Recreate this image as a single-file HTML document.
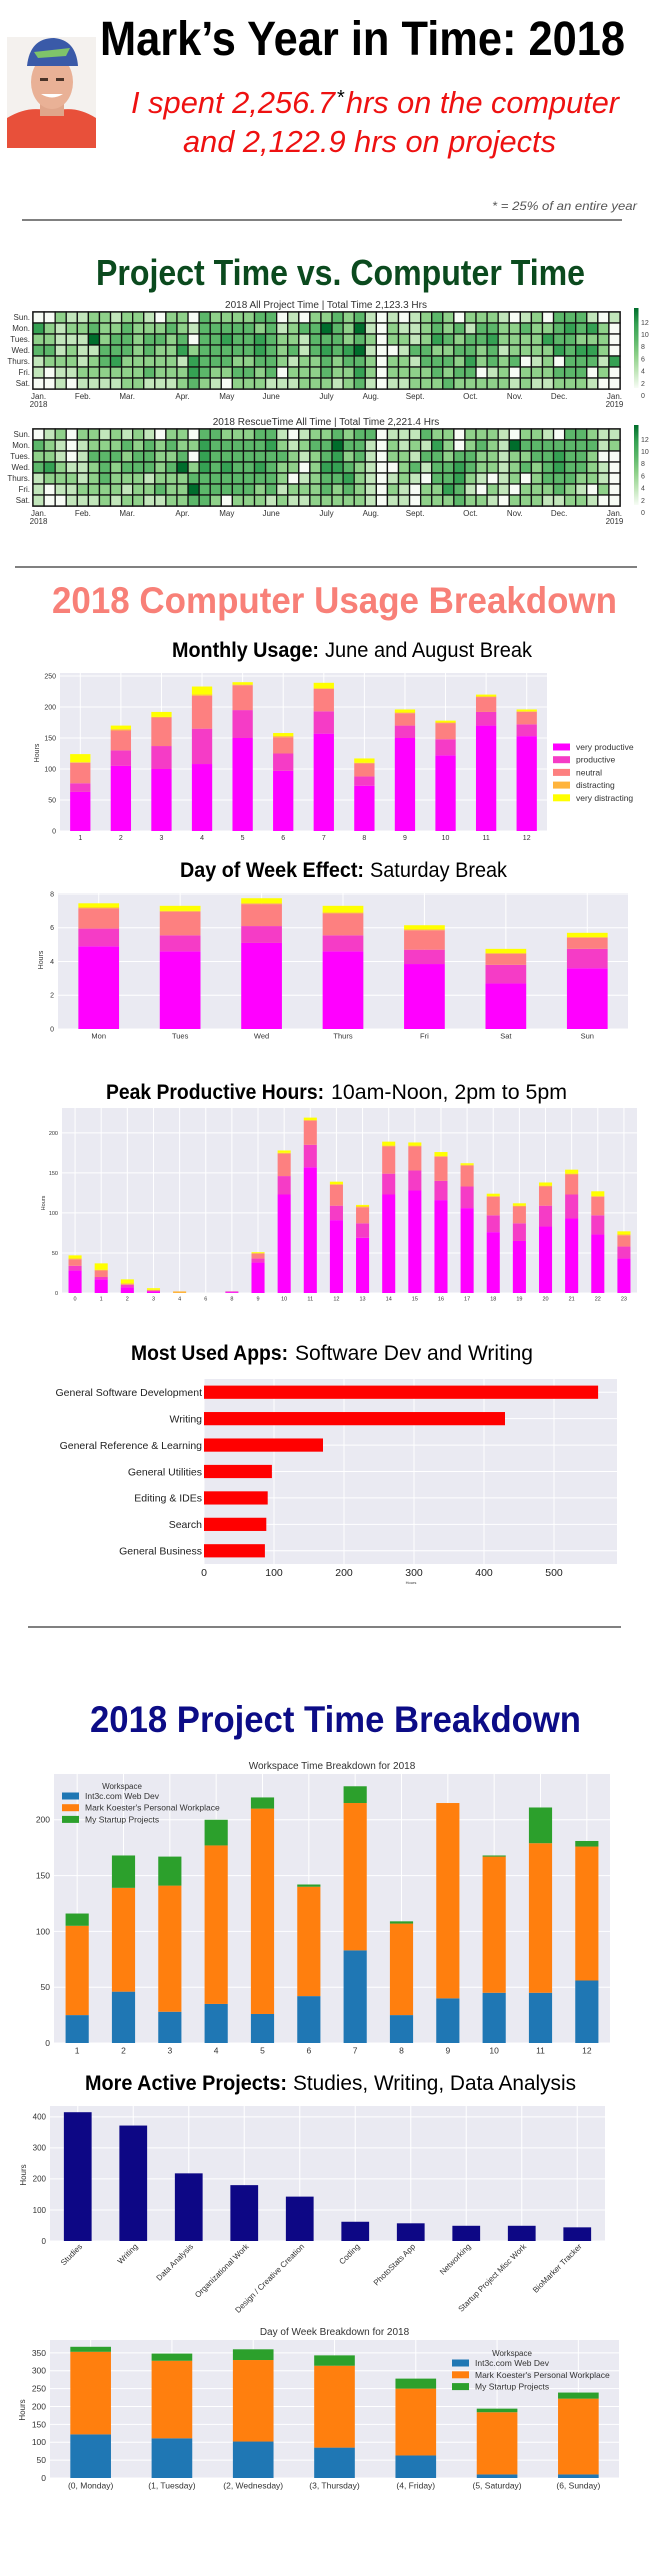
<!DOCTYPE html>
<html><head><meta charset="utf-8"><title>Mark's Year in Time: 2018</title>
<style>
html,body{margin:0;padding:0;background:#fff;}
svg{display:block;}
text{font-family:"Liberation Sans",sans-serif;}
.hd{font-family:"Liberation Sans Narrow","Liberation Sans",sans-serif;}
</style></head>
<body>
<svg id="root" xmlns="http://www.w3.org/2000/svg" width="649" height="2551" viewBox="0 0 649 2551">
<g>
  <g>
    <rect x="7" y="37" width="89" height="111" fill="#f4f1ee"/>
    <path d="M7 118 Q30 104 52 112 Q74 104 96 118 L96 148 L7 148 Z" fill="#e8503a"/>
    <rect x="40" y="96" width="24" height="20" fill="#e0a58a"/>
    <ellipse cx="52" cy="82" rx="21" ry="27" fill="#e9b196"/>
    <path d="M27 66 Q30 38 54 38 Q76 40 78 66 Z" fill="#3a5aa8"/>
    <path d="M34 52 L70 48 L66 56 L38 58 Z" fill="#7fc46a"/>
    <rect x="40" y="78" width="8" height="3" fill="#4a3328"/><rect x="56" y="78" width="8" height="3" fill="#4a3328"/>
    <path d="M41 94 Q52 101 63 94 Z" fill="#ffffff"/>
  </g>
  <text class="hd" x="100" y="55" font-size="48" font-weight="bold" fill="#000" textLength="525" lengthAdjust="spacingAndGlyphs">Mark’s Year in Time: 2018</text>
  <text class="hd" x="131" y="113" font-size="31" font-style="italic" fill="#ee1111" textLength="204" lengthAdjust="spacingAndGlyphs">I spent 2,256.7</text>
  <text x="337" y="104" font-size="20" fill="#000">*</text>
  <text class="hd" x="346" y="113" font-size="31" font-style="italic" fill="#ee1111" textLength="273" lengthAdjust="spacingAndGlyphs">hrs on the computer</text>
  <text class="hd" x="183" y="152" font-size="31" font-style="italic" fill="#ee1111" textLength="373" lengthAdjust="spacingAndGlyphs">and 2,122.9 hrs on projects</text>
  <text class="hd" x="492" y="210" font-size="12" font-style="italic" fill="#555" textLength="145" lengthAdjust="spacingAndGlyphs">* = 25% of an entire year</text>
  <rect x="22" y="219.5" width="600" height="1" fill="#000"/>
</g>
<text class="hd" x="96" y="285" font-size="36" font-weight="bold" fill="#0b4a1e" textLength="489" lengthAdjust="spacingAndGlyphs">Project Time vs. Computer Time</text>
<g id="hm1"></g>
<g id="hm2"></g>
<rect x="15" y="566.5" width="622" height="1" fill="#000"/>
<text class="hd" x="52" y="613" font-size="37" font-weight="bold" fill="#f88078" textLength="565" lengthAdjust="spacingAndGlyphs">2018 Computer Usage Breakdown</text>
<text class="hd" x="172" y="657" font-size="21" font-weight="bold" textLength="147" lengthAdjust="spacingAndGlyphs">Monthly Usage:</text>
<text class="hd" x="325" y="657" font-size="21" textLength="207" lengthAdjust="spacingAndGlyphs">June and August Break</text>
<g id="monthly"></g>
<text class="hd" x="180" y="877" font-size="21" font-weight="bold" textLength="184" lengthAdjust="spacingAndGlyphs">Day of Week Effect:</text>
<text class="hd" x="370" y="877" font-size="21" textLength="137" lengthAdjust="spacingAndGlyphs">Saturday Break</text>
<g id="dow1"></g>
<text class="hd" x="106" y="1099" font-size="21" font-weight="bold" textLength="218" lengthAdjust="spacingAndGlyphs">Peak Productive Hours:</text>
<text class="hd" x="331" y="1099" font-size="21" textLength="236" lengthAdjust="spacingAndGlyphs">10am-Noon, 2pm to 5pm</text>
<g id="peak"></g>
<text class="hd" x="131" y="1360" font-size="21" font-weight="bold" textLength="157" lengthAdjust="spacingAndGlyphs">Most Used Apps:</text>
<text class="hd" x="295" y="1360" font-size="21" textLength="238" lengthAdjust="spacingAndGlyphs">Software Dev and Writing</text>
<g id="apps"></g>
<rect x="28" y="1626.5" width="593" height="1" fill="#000"/>
<text class="hd" x="90" y="1732" font-size="37" font-weight="bold" fill="#0c0c86" textLength="491" lengthAdjust="spacingAndGlyphs">2018 Project Time Breakdown</text>
<g id="ws"></g>
<text class="hd" x="85" y="2090" font-size="21" font-weight="bold" textLength="202" lengthAdjust="spacingAndGlyphs">More Active Projects:</text>
<text class="hd" x="293" y="2090" font-size="21" textLength="283" lengthAdjust="spacingAndGlyphs">Studies, Writing, Data Analysis</text>
<g id="proj"></g>
<g id="dow2"></g>
</svg>
<script>
// ---------- DATA ----------
const hmWeeks = 53;
const hmRowLabels = ["Sun.","Mon.","Tues.","Wed.","Thurs.","Fri.","Sat."];
const hmMonthLabels = ["Jan.","Feb.","Mar.","Apr.","May","June","July","Aug.","Sept.","Oct.","Nov.","Dec.","Jan."];
const hmMonthDays = [0,31,59,90,120,151,181,212,243,273,304,334,365];
const hmColorbarTicks = [0,2,4,6,8,10,12];
// project-time heatmap levels (0-5), one string per weekday row, 53 weeks
const projectLevels = [
 "002112212210220322223301022"+"32310101232022210120333101",
 "421223223222321333332312335"+"32510211232313322322343420",
 "221115233233230334334322133"+"32320221243233422224332220",
 "331211333232242333334323134"+"34510013322332312222434420",
 "122212342222214333223321223"+"23320221333242323012033314",
 "101122222232224322332302223"+"22420222232330120222333020",
 "001011112211123210222111222"+"12310112223222221211222100"
];
const rescueLevels = [
 "012022121210220332223310122"+"32330111322022210221033211",
 "321012223232322433333421233"+"53310212142023215333333312",
 "221013332332230433333332123"+"42310221332332212233433200",
 "342112323332352434334322024"+"43210023133432212323433210",
 "122212322212223333333320123"+"34210121033421012023332210",
 "101122221223225333332312223"+"23210210224310210222321020",
 "100111212211223320222121122"+"22210110222322102221122100"
];

const usageColors = ["#ff00ff","#f53cc6","#fd8080","#ffb43c","#ffff00"];
const usageSeriesNames = ["very productive","productive","neutral","distracting","very distracting"];

const monthCats = ["1","2","3","4","5","6","7","8","9","10","11","12"];
const monthVeryProductive = [63,105,100,108,150,97,157,73,150,122,170,153];
const monthProductive = [14,25,37,57,45,28,36,15,20,26,22,19];
const monthNeutral = [33,32,46,53,40,26,36,21,20,26,24,20];
const monthDistracting = [1,2,1,2,1,2,1,1,1,1,1,1];
const monthVeryDistracting = [13,6,8,13,4,5,9,7,5,3,3,3];
const monthTicks = [0,50,100,150,200,250];

const dowCats = ["Mon","Tues","Wed","Thurs","Fri","Sat","Sun"];
const dowVeryProductive = [4.9,4.6,5.1,4.6,3.85,2.7,3.6];
const dowProductive = [1.05,0.95,1.0,0.95,0.85,1.1,1.15];
const dowNeutral = [1.2,1.4,1.3,1.3,1.15,0.65,0.65];
const dowDistracting = [0.05,0.05,0.05,0.05,0.05,0.05,0.05];
const dowVeryDistracting = [0.25,0.3,0.3,0.4,0.25,0.25,0.25];
const dowTicks = [0,2,4,6,8];

const hourCats = ["0","1","2","3","4","6","8","9","10","11","12","13","14","15","16","17","18","19","20","21","22","23"];
const hourVeryProductive = [28,17,7,2,0,0,1,38,123,157,91,69,123,128,116,106,76,65,83,93,73,43];
const hourProductive = [6,3,3,1,0,0,1,5,23,28,18,18,26,25,24,27,21,22,26,30,24,15];
const hourNeutral = [8,8,1,0,0,0,0,6,28,30,26,20,34,30,30,26,23,21,24,25,23,14];
const hourDistracting = [1,1,1,1,2,0,0,1,1,1,1,1,1,1,1,1,1,1,1,1,1,1];
const hourVeryDistracting = [4,8,5,2,0,0,0,1,3,3,3,2,5,4,5,2,3,3,4,5,6,4];
const hourTicks = [0,50,100,150,200];

const appCats = ["General Software Development","Writing","General Reference & Learning","General Utilities","Editing & IDEs","Search","General Business"];
const appHours = [563,430,170,97,91,89,87];
const appTicks = [0,100,200,300,400,500];

const wsColors = ["#1f77b4","#ff7f0e","#2ca02c"];
const wsNames = ["Int3c.com Web Dev","Mark Koester's Personal Workplace","My Startup Projects"];
const wsMonthCats = ["1","2","3","4","5","6","7","8","9","10","11","12"];
const wsMonthWeb = [25,46,28,35,26,42,83,25,40,45,45,56];
const wsMonthPersonal = [80,93,113,142,184,98,132,82,175,122,134,120];
const wsMonthStartup = [11,29,26,23,10,2,15,2,0,1,32,5];
const wsMonthTicks = [0,50,100,150,200];

const projCats = ["Studies","Writing","Data Analysis","Organizational Work","Design / Creative Creation","Coding","PhotoStats App","Networking","Startup Project Misc Work","BioMarker Tracker"];
const projHours = [415,372,218,180,143,62,57,49,49,44];
const projTicks = [0,100,200,300,400];

const wsDowCats = ["(0, Monday)","(1, Tuesday)","(2, Wednesday)","(3, Thursday)","(4, Friday)","(5, Saturday)","(6, Sunday)"];
const wsDowWeb = [122,111,102,85,63,10,10];
const wsDowPersonal = [231,217,228,229,187,174,212];
const wsDowStartup = [14,20,30,29,28,10,17];
const wsDowTicks = [0,50,100,150,200,250,300,350];

// ---------- HELPERS ----------
const NS = "http://www.w3.org/2000/svg";
function mk(tag, attrs, parent){
  const e = document.createElementNS(NS, tag);
  for (const k in attrs) e.setAttribute(k, attrs[k]);
  parent.appendChild(e);
  return e;
}
function txt(parent, s, x, y, size, anchor, fill){
  const t = mk("text", {x:x, y:y, "font-size":size, "text-anchor":anchor||"start", fill:fill||"#333"}, parent);
  t.textContent = s;
  return t;
}
const greens = ["#f7fcf5","#c2e6bb","#8fd18a","#5cb76a","#35a153","#006d2c"];

function heatmap(g, levels, title, top){
  const x0 = 33, cw = (620-33)/hmWeeks, ch = 11;
  const tt = txt(g, title, 326, top-4, 10, "middle", "#333");
  
  
  mk("rect", {x:x0-1, y:top-1, width:hmWeeks*cw+2, height:7*ch+2, fill:"#777"}, g);
  for (let r=0; r<7; r++){
    const lab = txt(g, hmRowLabels[r], 30, top + r*ch + 8, 8, "end", "#333");
    
    
    for (let c=0; c<hmWeeks; c++){
      const lv = +levels[r][c];
      const cell = mk("rect", {x:x0+c*cw, y:top+r*ch, width:cw, height:ch, fill:greens[lv], stroke:"#111", "stroke-width":1.3}, g);
      
      
    }
  }
  for (let m=0; m<hmMonthLabels.length; m++){
    const col = Math.floor((hmMonthDays[m]+1)/7);
    const ml = txt(g, hmMonthLabels[m], x0 + (col+0.5)*cw, top+7*ch+10, 8, "middle", "#333");
    
    
  }
  const y1 = txt(g, "2018", x0+0.5*cw, top+7*ch+18, 8, "middle", "#333");
  
  
  const y2 = txt(g, "2019", x0+52.5*cw, top+7*ch+18, 8, "middle", "#333");
  
  
  const gid = "cb" + top;
  const defs = mk("defs", {}, g);
  const lg = mk("linearGradient", {id:gid, x1:0, y1:1, x2:0, y2:0}, defs);
  greens.forEach((c,i)=>{ mk("stop", {offset:(i/(greens.length-1)), "stop-color":c}, lg); });
  const cb = mk("rect", {x:634, y:top-4, width:4.5, height:80, fill:"url(#"+gid+")"}, g);
  
  
  hmColorbarTicks.forEach(v=>{
    const t = txt(g, String(v), 641, top + 86 - v*6.1, 7, "start", "#444");
    
    
  });
}

function plotBg(g, x0, x1, y0, y1){
  const bg = mk("rect", {x:x0, y:y0, width:x1-x0, height:y1-y0, fill:"#eaeaf2"}, g);
  
  
}

function vbars(g, o){
  const n = o.cats.length, step = (o.x1-o.x0)/n, bw = step*(o.bw||0.5);
  const ys = v => o.y1 - v/o.vmax*(o.y1-o.y0);
  const xc = i => o.x0 + (i+0.5)*step;
  plotBg(g, o.x0, o.x1, o.y0, o.y1);
  o.ticks.forEach(v=>{
    mk("line", {x1:o.x0, x2:o.x1, y1:ys(v), y2:ys(v), stroke:"#fff", "stroke-width":1}, g);
    const t = txt(g, String(v), o.x0-4, ys(v)+o.tf*0.35, o.tf, "end", "#333");
    
    
  });
  for (let i=0;i<n;i++) mk("line", {x1:xc(i), x2:xc(i), y1:o.y0, y2:o.y1, stroke:"#fff", "stroke-width":1}, g);
  for (let i=0;i<n;i++){
    let acc = 0;
    o.series.forEach((s, k)=>{
      const v = s[i];
      if (v > 0){
        const b = mk("rect", {x:xc(i)-bw/2, y:ys(acc+v), width:bw, height:ys(acc)-ys(acc+v), fill:o.colors[k]}, g);
        
        
      }
      acc += v;
    });
    if (o.rotate){
      const t = txt(g, o.cats[i], 0, 0, o.cf, "end", "#333");
      t.setAttribute("transform", "translate("+(xc(i)+5)+","+(o.y1+6)+") rotate(-45)");
      
      
    } else {
      const t = txt(g, o.cats[i], xc(i), o.y1 + o.cf + 2, o.cf, "middle", "#333");
      
      
    }
  }
  if (o.ylabel){
    const t = txt(g, "Hours", 0, 0, o.ylf||7, "middle", "#333");
    t.setAttribute("transform", "translate("+o.ylabel[0]+","+o.ylabel[1]+") rotate(-90)");
    
    
  }
  if (o.title){
    const t = txt(g, o.title, (o.x0+o.x1)/2, o.y0-5, 10, "middle", "#333");
    
    
  }
}

function legend(g, x, y, names, colors, step, fs, head){
  if (head){
    const h = txt(g, "Workspace", x+60, y-7, fs-0.5, "middle", "#333");
    
    
  }
  names.forEach((nm,i)=>{
    const sw = mk("rect", {x:x, y:y+i*step-3.5, width:17, height:7, fill:colors[i]}, g);
    
    
    const t = txt(g, nm, x+23, y+i*step+3, fs, "start", "#333");
    
    
  });
}

// ---------- BUILD ----------
heatmap(document.getElementById("hm1"), projectLevels, "2018 All Project Time | Total Time 2,123.3 Hrs", 312);
heatmap(document.getElementById("hm2"), rescueLevels, "2018 RescueTime All Time | Total Time 2,221.4 Hrs", 429);

const gm = document.getElementById("monthly");
vbars(gm, {x0:60, x1:547, y0:673, y1:831, vmax:254.8, cats:monthCats,
  series:[monthVeryProductive,monthProductive,monthNeutral,monthDistracting,monthVeryDistracting],
  colors:usageColors, ticks:monthTicks, tf:7, cf:7, ylabel:[39,753]});
legend(gm, 553, 747, usageSeriesNames, usageColors, 12.7, 8.5, false);

vbars(document.getElementById("dow1"), {x0:58, x1:628, y0:893, y1:1029, vmax:8.06, cats:dowCats,
  series:[dowVeryProductive,dowProductive,dowNeutral,dowDistracting,dowVeryDistracting],
  colors:usageColors, ticks:dowTicks, tf:7, cf:7.5, ylabel:[43,960]});

vbars(document.getElementById("peak"), {x0:62, x1:637, y0:1108, y1:1293, vmax:231, cats:hourCats,
  series:[hourVeryProductive,hourProductive,hourNeutral,hourDistracting,hourVeryDistracting],
  colors:usageColors, ticks:hourTicks, tf:5.5, cf:5.5, ylabel:[45,1203], ylf:5.5});

(function(){
  const g = document.getElementById("apps");
  const x0=204, x1=617, y0=1379, y1=1564, vmax=590;
  const xs = v => x0 + v/vmax*(x1-x0);
  const n = appCats.length, step=(y1-y0)/n, bh=step*0.5;
  plotBg(g, x0, x1, y0, y1);
  appTicks.forEach(v=>{
    mk("line", {x1:xs(v), x2:xs(v), y1:y0, y2:y1, stroke:"#fff"}, g);
    const t = txt(g, String(v), xs(v), 1576, 10.5, "middle", "#222");
    
    
  });
  for (let i=0;i<n;i++){
    const yc = y0 + (i+0.5)*step;
    mk("line", {x1:x0, x2:x1, y1:yc, y2:yc, stroke:"#fff"}, g);
    const b = mk("rect", {x:x0, y:yc-bh/2, width:xs(appHours[i])-x0, height:bh, fill:"#ff0000"}, g);
    
    
    const t = txt(g, appCats[i], 202, yc+3.8, 10.5, "end", "#222");
    
    
  }
  const xl = txt(g, "Hours", 411, 1584, 4, "middle", "#333");
  
  
})();

const gw = document.getElementById("ws");
vbars(gw, {x0:54, x1:610, y0:1774, y1:2043, vmax:241, cats:wsMonthCats,
  series:[wsMonthWeb,wsMonthPersonal,wsMonthStartup], colors:wsColors, ticks:wsMonthTicks,
  tf:8.5, cf:8.5, title:"Workspace Time Breakdown for 2018"});
legend(gw, 62, 1796, wsNames, wsColors, 11.7, 8.5, true);

vbars(document.getElementById("proj"), {x0:50, x1:605, y0:2106, y1:2241, vmax:435, cats:projCats,
  series:[projHours], colors:["#0d0785"], ticks:projTicks, tf:8, cf:8, rotate:true, ylabel:[26,2175], ylf:8});

const gd = document.getElementById("dow2");
vbars(gd, {x0:50, x1:619, y0:2340, y1:2478, vmax:386, cats:wsDowCats,
  series:[wsDowWeb,wsDowPersonal,wsDowStartup], colors:wsColors, ticks:wsDowTicks,
  tf:8.5, cf:8.5, ylabel:[25,2410], ylf:8, title:"Day of Week Breakdown for 2018"});
legend(gd, 452, 2363, wsNames, wsColors, 11.8, 8.5, true);
</script>
</body></html>
